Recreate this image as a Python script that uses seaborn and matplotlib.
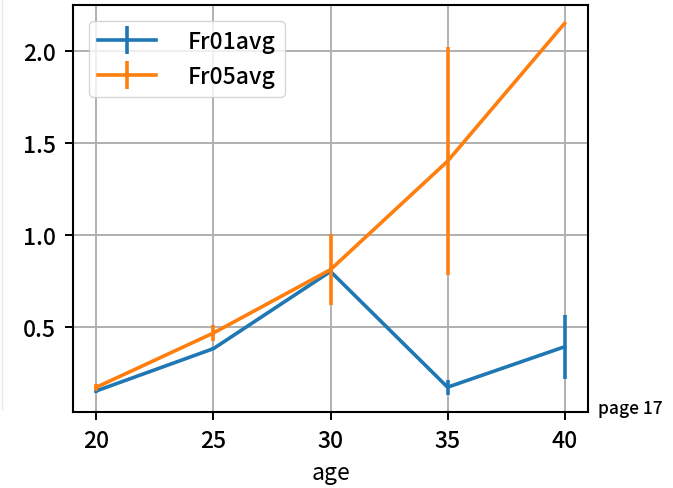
import matplotlib
matplotlib.use("Agg")
import matplotlib.pyplot as plt
from matplotlib.lines import Line2D
import seaborn as sns
import pandas as pd

age = [20, 25, 30, 35, 40]
fr01avg = [0.15, 0.38, 0.80, 0.17, 0.39]
fr01err = [0.01, 0.01, 0.01, 0.04, 0.175]
fr05avg = [0.17, 0.465, 0.81, 1.40, 2.15]
fr05err = [0.02, 0.045, 0.195, 0.62, 0.0]
series_names = ["Fr01avg", "Fr05avg"]
colors = ["#1f77b4", "#ff7f0e"]

plt.rcParams['font.family'] = ['Noto Sans CJK JP', 'DejaVu Sans']
plt.rcParams['font.weight'] = 'medium'

df = pd.DataFrame({
    "age": age * 2,
    "value": fr01avg + fr05avg,
    "series": [series_names[0]] * len(age) + [series_names[1]] * len(age),
})

fig = plt.figure(figsize=(6.73, 4.89), dpi=100)
ax = fig.add_axes([0.1085, 0.1554, 0.7652, 0.8323])

lw = 2.6
sns.lineplot(data=df, x="age", y="value", hue="series", palette=colors,
             linewidth=lw, legend=False, ax=ax, zorder=3)
for vals, errs, c in [(fr01avg, fr01err, colors[0]), (fr05avg, fr05err, colors[1])]:
    ax.errorbar(age, vals, yerr=errs, fmt='none', ecolor=c, elinewidth=lw, capsize=0, zorder=3)

ax.set_xlim(19, 41)
ax.set_ylim(0.035, 2.25)
ax.set_xticks([20, 25, 30, 35, 40])
ax.set_yticks([0.5, 1.0, 1.5, 2.0])
ax.set_yticklabels(["0.5", "1.0", "1.5", "2.0"])
ax.grid(True, color="#b0b0b0", linewidth=1.4, zorder=0)
ax.set_axisbelow(True)
for s in ax.spines.values():
    s.set_linewidth(1.5)
    s.set_color("black")
ax.tick_params(axis='both', labelsize=16.5, length=6, width=1.4, pad=6)
ax.set_xlabel("age", fontsize=16.5, labelpad=7)
ax.set_ylabel("")

handles = [Line2D([], [], color=c, lw=lw, marker='|', markersize=20, mew=lw) for c in colors]
leg = ax.legend(handles, series_names, loc="upper left", fontsize=16.5,
                handlelength=2.5, handletextpad=1.4, borderaxespad=0.7,
                labelspacing=0.5, framealpha=0.8, edgecolor="#cccccc")

fig.text(598 / 673, 1 - 414 / 489, "page 17", fontsize=12.5, va="baseline", ha="left")
fig.add_artist(Line2D([0.003, 0.003], [1.0, 1 - 410 / 489], transform=fig.transFigure,
                      color="#e8e8e8", lw=1))

fig.savefig("out.png", dpi=100)
